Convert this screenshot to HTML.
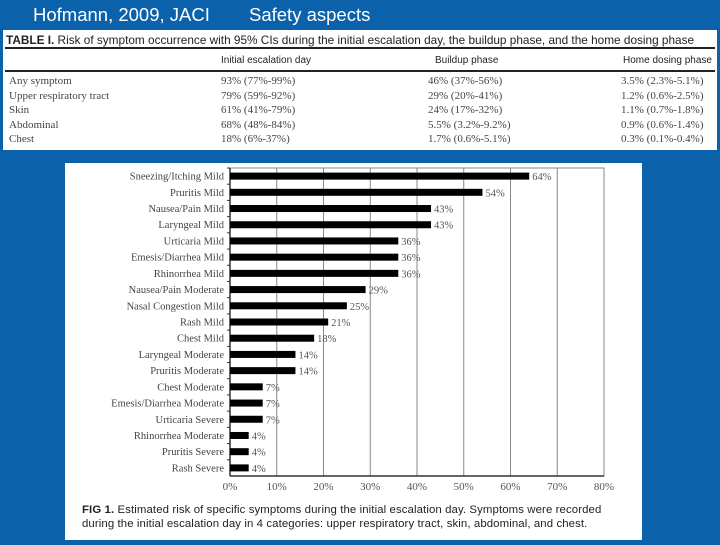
<!DOCTYPE html>
<html><head><meta charset="utf-8"><style>
body{margin:0;width:720px;height:540px;background:#0b62aa;overflow:hidden;position:relative;font-family:"Liberation Sans",sans-serif}
.abs{position:absolute}
.title{top:4px;color:#fff;font-size:18.5px;white-space:nowrap}
#table{left:3px;top:30px;width:714px;height:120px;background:#fff;font-family:"Liberation Serif",serif;font-size:11px;color:#444}
#chartbox{left:65px;top:163px;width:577px;height:377px;background:#fff}
.cap{font-size:11.4px;color:#222;white-space:nowrap;letter-spacing:0.1px}
.hd{font-family:'Liberation Sans',sans-serif;font-size:10px;color:#222;top:25px}
</style></head><body>
<div class="abs title" style="left:33px">Hofmann, 2009, JACI</div>
<div class="abs title" style="left:249px">Safety aspects</div>
<div id="table" class="abs">
 <div class="abs" style="left:3px;top:3px;font-family:'Liberation Sans',sans-serif;font-size:11.8px;color:#222;white-space:nowrap"><b>TABLE I.</b> Risk of symptom occurrence with 95% CIs during the initial escalation day, the buildup phase, and the home dosing phase</div>
 <div class="abs" style="left:2px;top:17px;width:710px;height:2px;background:#222"></div>
 <div class="abs" style="left:2px;top:40px;width:710px;height:2px;background:#222"></div>
 <div class="abs hd" style="left:218px">Initial escalation day</div>
 <div class="abs hd" style="left:432px">Buildup phase</div>
 <div class="abs hd" style="left:620px">Home dosing phase</div>
 <div id="rows"></div>
</div>
<div id="chartbox" class="abs">
<svg id="chart" width="577" height="377"></svg>
<div class="abs cap" style="left:17px;top:341px"><b>FIG 1.</b> Estimated risk of specific symptoms during the initial escalation day. Symptoms were recorded</div>
<div class="abs cap" style="left:17px;top:355px">during the initial escalation day in 4 categories: upper respiratory tract, skin, abdominal, and chest.</div>
</div>
<script>
const rowLabels=["Any symptom","Upper respiratory tract","Skin","Abdominal","Chest"];
const colInitial=["93% (77%-99%)","79% (59%-92%)","61% (41%-79%)","68% (48%-84%)","18% (6%-37%)"];
const colBuildup=["46% (37%-56%)","29% (20%-41%)","24% (17%-32%)","5.5% (3.2%-9.2%)","1.7% (0.6%-5.1%)"];
const colHome=["3.5% (2.3%-5.1%)","1.2% (0.6%-2.5%)","1.1% (0.7%-1.8%)","0.9% (0.6%-1.4%)","0.3% (0.1%-0.4%)"];
const categories=["Sneezing/Itching Mild","Pruritis Mild","Nausea/Pain Mild","Laryngeal Mild","Urticaria Mild","Emesis/Diarrhea Mild","Rhinorrhea Mild","Nausea/Pain Moderate","Nasal Congestion Mild","Rash Mild","Chest Mild","Laryngeal Moderate","Pruritis Moderate","Chest Moderate","Emesis/Diarrhea Moderate","Urticaria Severe","Rhinorrhea Moderate","Pruritis Severe","Rash Severe"];
const values=[64,54,43,43,36,36,36,29,25,21,18,14,14,7,7,7,4,4,4];
const ticks=[0,10,20,30,40,50,60,70,80];

const rows=document.getElementById('rows');
rowLabels.forEach((r,i)=>{
 const y=45+i*14.5;
 [[r,6],[colInitial[i],218],[colBuildup[i],425],[colHome[i],618]].forEach((c,j)=>{
  const d=document.createElement('div');d.className='abs';d.style.left=c[1]+'px';d.style.top=y+'px';d.style.whiteSpace='nowrap';d.textContent=c[0];
  
  
  rows.appendChild(d);
 });
});

const svg=document.getElementById('chart');const NS='http://www.w3.org/2000/svg';
const X0=165,X1=539,T=5,B=313;
const xs=v=>X0+(X1-X0)*v/80;
const band=(B-T)/categories.length;
const ys=i=>T+band*(i+0.5);
function mk(t,a){const e=document.createElementNS(NS,t);for(const k in a)e.setAttribute(k,a[k]);svg.appendChild(e);return e;}
ticks.forEach(t=>{
 const g=mk('line',{x1:xs(t),x2:xs(t),y1:T,y2:B,stroke:'#888','stroke-width':1});
 
 
 const l=mk('text',{x:xs(t),y:B+14,'text-anchor':'middle','font-family':'Liberation Serif, serif','font-size':11,fill:'#555'});
 l.textContent=t+'%';
 
 
});
const fr=mk('rect',{x:X0,y:T,width:X1-X0,height:B-T,fill:'none',stroke:'#888'});


mk('line',{x1:X0,x2:X1,y1:B,y2:B,stroke:'#333','stroke-width':1.5});
mk('line',{x1:X0,x2:X0,y1:T,y2:B,stroke:'#333','stroke-width':1.5});
categories.forEach((c,i)=>{
 const y=ys(i);
 mk('line',{x1:X0-3,x2:X0,y1:T+band*i,y2:T+band*i,stroke:'#333'});
 const b=mk('rect',{x:X0,y:y-3.5,width:xs(values[i])-X0,height:7,fill:'#000'});
 
 
 const t=mk('text',{x:X0-6,y:y+3.5,'text-anchor':'end','font-family':'Liberation Serif, serif','font-size':10.5,fill:'#444'});
 t.textContent=c;
 
 
 const v=mk('text',{x:xs(values[i])+3,y:y+4,'font-family':'Liberation Serif, serif','font-size':10.5,fill:'#555'});
 v.textContent=values[i]+'%';
 
 
});
</script>
</body></html>
